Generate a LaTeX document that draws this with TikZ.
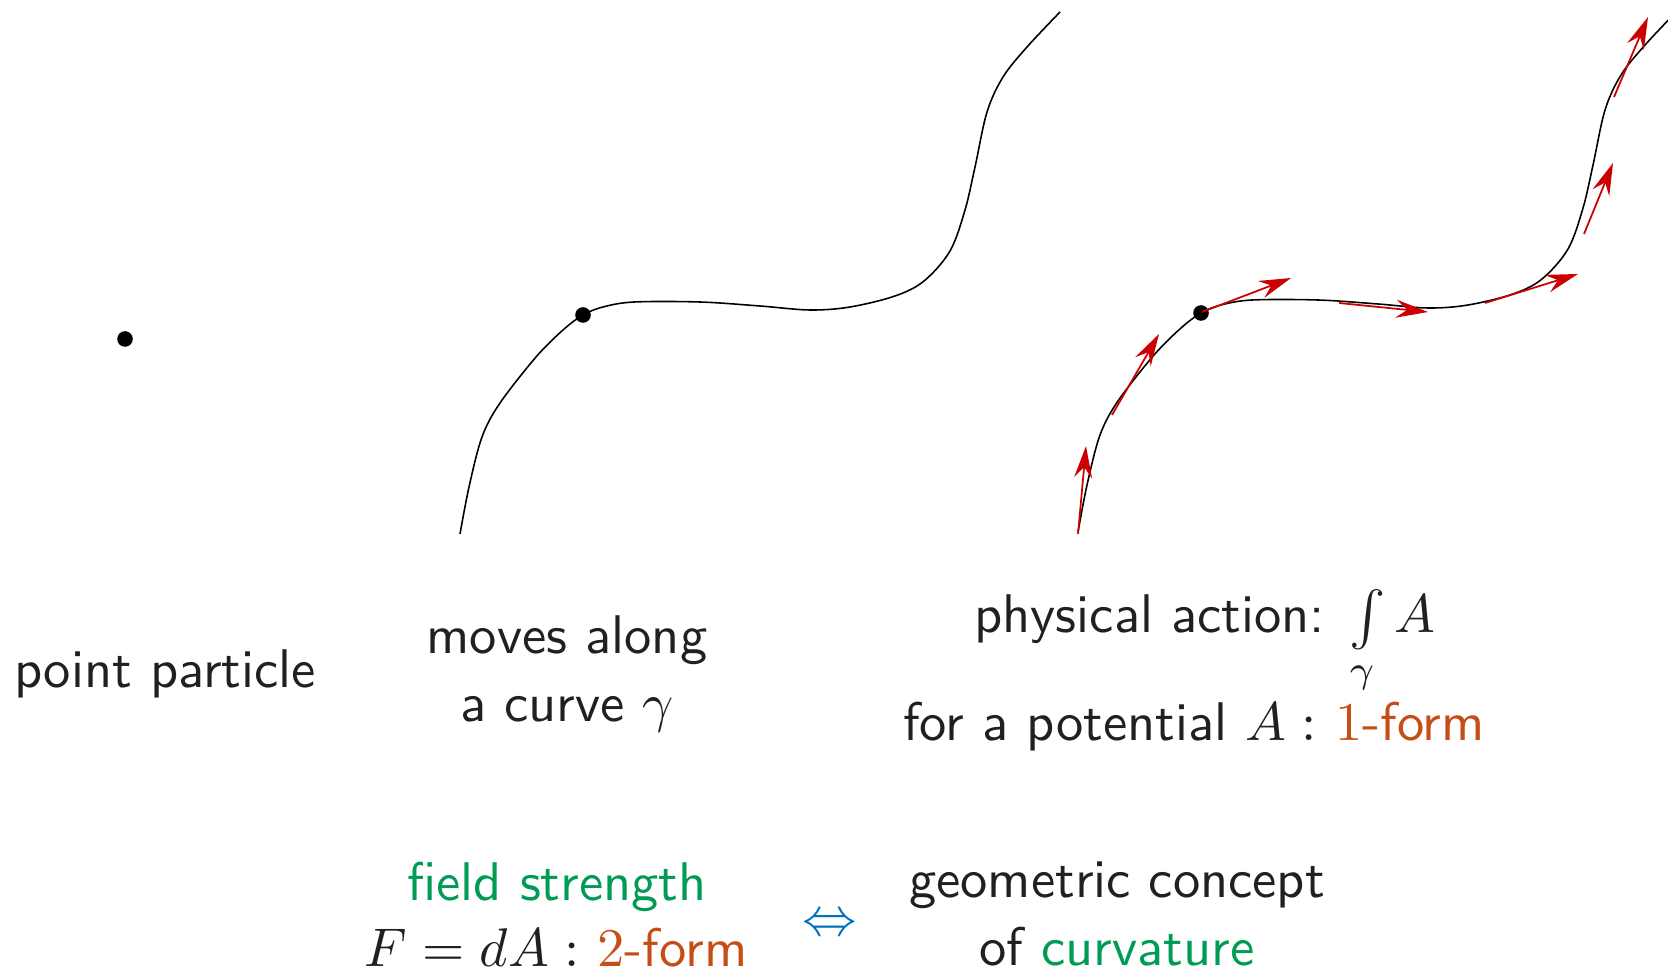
\documentclass[tikz,border=0pt]{standalone}
\usepackage{amsmath,amssymb}
\usepackage{tikz}
\usetikzlibrary{arrows.meta}
\definecolor{fieldgreen}{RGB}{0,155,85}
\definecolor{formorange}{RGB}{196,78,22}
\definecolor{equivblue}{RGB}{0,112,192}
\definecolor{vecred}{RGB}{204,0,0}
\definecolor{inkgray}{RGB}{35,31,32}

\begin{document}
\begin{tikzpicture}[x=0.1mm, y=-0.1mm,
    label text/.style={font=\sffamily, text=inkgray, scale=1.55, inner sep=0pt, anchor=base},
    world line/.style={line width=0.45pt, black},
    tangent/.style={-{Stealth[length=3.2mm, width=1.8mm, inset=1.1mm]}, line width=0.5pt, vecred}]
    \useasboundingbox (0,0) rectangle (1668,973);
    \clip (0,0) rectangle (1668,973);

    % --- Point particle ---
    \fill[black] (125,339) circle (0.78mm);
    \node[label text] (pointlabel) at (165,687) {point particle};

    % --- Curve gamma (twice, second one carries the potential) ---
    \foreach \dx/\dy in {0/0, 618/-2}{
        \begin{scope}[shift={(\dx,\dy)}]
            \draw[world line] plot[smooth, tension=0.55] coordinates {
                (460,534) (469,487) (482,437) (500,403) (536,357) (563,330)
                (583,315) (603,307) (634,302) (700,302) (760,306) (810,310)
                (850,307) (895,296) (924,281) (950,251) (965,210) (975,167)
                (987,112) (1003,77) (1027,47) (1060,12)};
            \fill[black] (583,315) circle (0.78mm);
        \end{scope}
    }
    \node[label text] (movesA) at (567,654) {moves along};
    \node[label text] (movesB) at (567,721) {a curve $\gamma$};

    % --- Potential A along the curve ---
    \foreach \tx/\ty/\hx/\hy in {1078/534/1086/446, 1112/415/1159/334,
        1202/312/1291/278, 1339/303/1428/312, 1485/303/1578/274,
        1584/234/1613/163, 1614/97/1648/17}{
        \draw[tangent] (\tx,\ty) -- (\hx,\hy);
    }
    \node[label text] (actionA) at (1205,633) {physical action: $\int\limits_{\gamma} A$};
    \node[label text] (actionB) at (1194,740) {for a potential $A:$ \textcolor{formorange}{$1$-form}};

    % --- Field strength and curvature ---
    \node[label text, text=fieldgreen] (fieldA) at (557,900) {field strength};
    \node[label text] (fieldB) at (556,966) {$F=dA:$ \textcolor{formorange}{$2$-form}};
    \node[label text, text=equivblue] (equiv) at (830,935) {$\Leftrightarrow$};
    \node[label text] (geomA) at (1117,897) {geometric concept};
    \node[label text] (geomB) at (1117,965) {of \textcolor{fieldgreen}{curvature}};
\end{tikzpicture}
\end{document}
